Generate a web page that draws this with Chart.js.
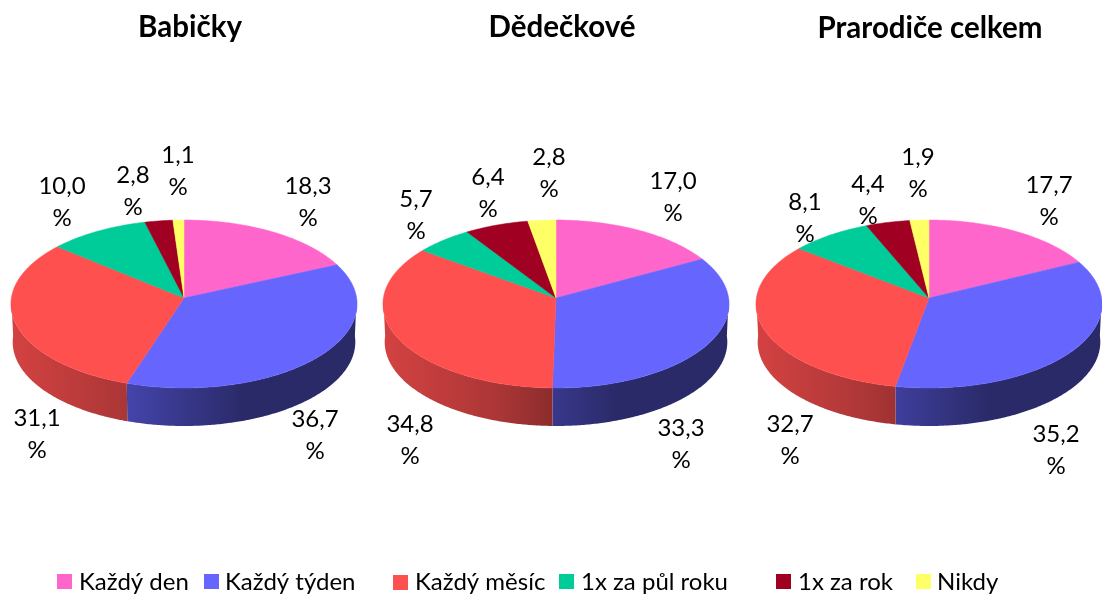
<!DOCTYPE html>
<html lang="cs">
<head>
<meta charset="utf-8">
<title>Prarodiče</title>
<style>
html,body{margin:0;padding:0;background:#fff;width:1102px;height:597px;overflow:hidden}
canvas{position:absolute;left:0;top:0}
</style>
<script src="https://cdn.jsdelivr.net/npm/chart.js@4/dist/chart.umd.min.js"></script>
</head>
<body>
<canvas id="c0" width="1102" height="597"></canvas>
<canvas id="c1" width="1102" height="597"></canvas>
<canvas id="c2" width="1102" height="597"></canvas>
<script>
// ---- data ----
const categories = ['Každý den','Každý týden','Každý měsíc','1x za půl roku','1x za rok','Nikdy'];
const titles = ['Babičky','Dědečkové','Prarodiče celkem'];
const babicky = [18.3,36.7,31.1,10.0,2.8,1.1];
const dedeckove = [17.0,33.3,34.8,5.7,6.4,2.8];
const celkem = [17.7,35.2,32.7,8.1,4.4,1.9];
// ---- style and layout (not data) ----
const colors = ['#FF66CC','#6666FF','#FF5050','#00CC99','#A00021','#FFFF66'];
const rgb = [[255,102,204],[102,102,255],[255,80,80],[0,204,153],[160,0,33],[255,255,102]];
const FONT = 'Lato, Carlito, sans-serif';
const RX = 173;                       // radius of the arcs in the library's flat layout
const PERSP = 0.0714, SCALE_X = 0.9977, SCALE_Y = 0.483; // projection of the flat pie
const DEPTH = 38, BOTTOM_SHRINK = 0.99;
const layouts = [
  {cx:184, cy:298, title:[190,27], lab:[[308,186],[315,419],[37,418],[62,186],[133,175],[178,155]]},
  {cx:556, cy:298, title:[562,27], lab:[[673,181],[681,428],[410,424],[416,199],[488,177],[549,157]]},
  {cx:929, cy:298, title:[930,28], lab:[[1049,185],[1056,434],[790,424],[805,202],[868,184],[918,157]]}
];
const LINE = 32, LABEL_FONT = '24px '+FONT, TITLE_FONT = 'bold 29.5px '+FONT;
const legendX = [[57,79],[204,225],[393,415],[559,581],[776,798],[916,937]];
const legendY = [574,574,575,574,574,574];
const shadeStops = [[0,.83],[116/346,.67],[173/346,.54],[233/346,.41],[1,.41]];

function wallGradient(ctx,cx,i){
  const g = ctx.createLinearGradient(cx-RX,0,cx+RX,0);
  shadeStops.forEach(([p,f])=>{
    const c = rgb[i].map(v=>Math.round(v*f));
    g.addColorStop(p,`rgb(${c[0]},${c[1]},${c[2]})`);
  });
  return g;
}
// perspective projection of a rim point of the flat pie
function project(arc,a,dy,k){
  const u = Math.cos(a), v = Math.sin(a), s = 1/(1-PERSP*v), r = arc.outerRadius;
  return [arc.x + k*SCALE_X*r*u*s, arc.y + dy + SCALE_Y*r*v*s];
}
function rim(ctx,arc,a0,a1,dy,k){
  const n = Math.max(2,Math.ceil(Math.abs(a1-a0)/0.01));
  for(let j=0;j<=n;j++){
    const p = project(arc,a0+(a1-a0)*j/n,dy,k);
    ctx.lineTo(p[0],p[1]);
  }
}

const pie3d = {
  id:'pie3d',
  beforeDatasetsDraw(chart){
    const ctx = chart.ctx, meta = chart.getDatasetMeta(0);
    // side wall of the front half, from each arc's own angles
    meta.data.forEach((arc,i)=>{
      const s = Math.max(arc.startAngle,0), e = Math.min(arc.endAngle,Math.PI);
      if(e<=s) return;
      ctx.beginPath();
      rim(ctx,arc,s,e,0,1);
      rim(ctx,arc,e,s,DEPTH,BOTTOM_SHRINK);
      ctx.closePath();
      ctx.fillStyle = wallGradient(ctx,arc.x,i);
      ctx.fill();
    });
    // top face
    meta.data.forEach(arc=>{
      ctx.beginPath();
      ctx.moveTo(arc.x,arc.y);
      rim(ctx,arc,arc.startAngle,arc.endAngle,0,1);
      ctx.closePath();
      ctx.fillStyle = arc.options.backgroundColor;
      ctx.strokeStyle = arc.options.backgroundColor;
      ctx.lineWidth = 0.5;
      ctx.fill();
      ctx.stroke();
    });
    return false;
  },
  afterDraw(chart,args,opts){
    const ctx = chart.ctx, l = layouts[opts.index];
    ctx.save();
    ctx.fillStyle = '#000';
    ctx.textAlign = 'center';
    ctx.textBaseline = 'middle';
    ctx.font = TITLE_FONT;
    ctx.fillText(opts.title,l.title[0],l.title[1]);
    ctx.font = LABEL_FONT;
    chart.data.datasets[0].data.forEach((v,i)=>{
      const [x,y] = l.lab[i];
      ctx.fillText(v.toFixed(1).replace('.',','),x,y);
      ctx.fillText('%',x,y+LINE);
    });
    if(opts.index===0){
      ctx.textAlign = 'left';
      categories.forEach((c,i)=>{
        ctx.fillStyle = colors[i];
        ctx.fillRect(legendX[i][0],legendY[i],15,15);
        ctx.fillStyle = '#000';
        ctx.fillText(c,legendX[i][1],582);
      });
    }
    ctx.restore();
  }
};

[babicky,dedeckove,celkem].forEach((values,k)=>{
  const l = layouts[k];
  new Chart(document.getElementById('c'+k),{
    type:'pie',
    data:{labels:categories,datasets:[{data:values,backgroundColor:colors,borderWidth:0}]},
    options:{
      responsive:false,
      animation:false,
      events:[],
      layout:{padding:{left:l.cx-RX,right:1102-l.cx-RX,top:l.cy-RX,bottom:597-l.cy-RX}},
      plugins:{legend:{display:false},tooltip:{enabled:false},title:{display:false},
        pie3d:{index:k,title:titles[k]}}
    },
    plugins:[pie3d]
  });
});
</script>
</body>
</html>
